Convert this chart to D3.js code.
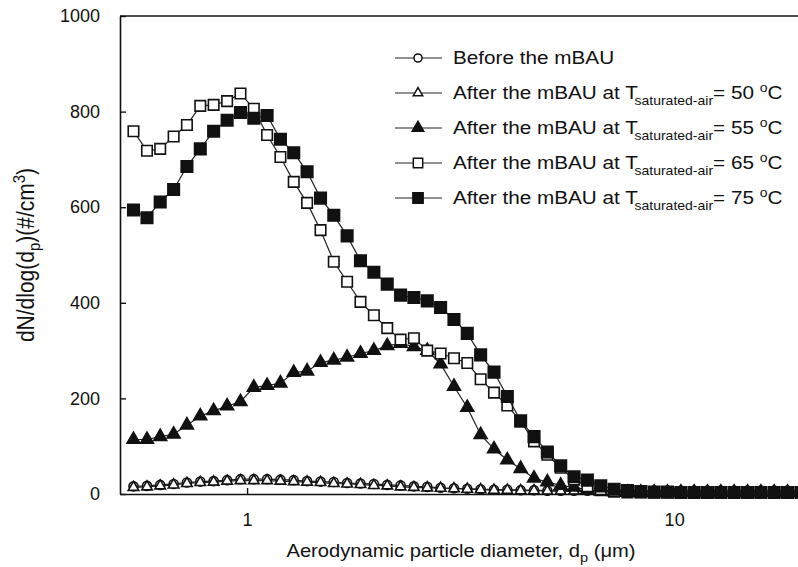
<!DOCTYPE html>
<html>
<head>
<meta charset="utf-8">
<script src="https://cdn.jsdelivr.net/npm/d3@7"></script>
<style>
  body { margin: 0; background: #fff; }
  text { font-family: "Liberation Sans", Arial, sans-serif; fill: #111; }
</style>
</head>
<body>
<div id="canvas"></div>
<script>
// Diametros de canal (um)
const diameters = [0.542,0.583,0.626,0.673,0.723,0.777,0.835,0.898,0.965,1.037,1.114,1.197,1.286,1.382,1.486,1.596,1.715,1.843,1.981,2.129,2.288,2.458,2.642,2.839,3.051,3.278,3.523,3.786,4.068,4.371,4.698,5.048,5.425,5.829,6.264,6.732,7.234,7.774,8.354,8.977,9.647,10.37,11.14,11.97,12.86,13.82,14.86,15.96,17.15,18.43,19.81];

// Series
const before = [16,17,19,21,24,26,27,29,31,31,31,30,29,27,26,25,23,22,21,19,18,16,15,13,12,11,10,9,9,8,8,7,7,7,7,7,7,7,7,7,7,7,7,7,7,7,7,7,7,7,7];
const t50 = [14,15,17,19,22,24,25,27,28,28,28,27,26,25,24,22,21,20,18,17,15,14,13,12,11,10,9,8,8,7,7,6,6,6,6,6,6,6,6,6,6,6,6,6,6,6,6,6,6,6,6];
const t55 = [114,114,120,125,144,163,174,184,193,223,227,232,254,257,275,280,286,294,300,310,315,308,300,272,225,181,124,94,71,53,33,25,18,14,9,6,4,3,3,3,3,3,3,3,3,3,3,3,3,3,3];
const t65 = [759,718,722,748,772,812,814,822,838,806,751,705,653,609,552,486,444,402,374,347,323,326,300,294,284,274,240,212,185,152,110,82,55,30,16,8,5,3,3,3,3,3,3,3,3,3,3,3,3,3,3];
const t75 = [594,578,611,637,685,722,759,782,798,786,792,742,714,674,619,583,540,488,464,439,416,411,404,390,365,336,291,255,204,153,120,88,59,36,29,17,10,7,5,4,4,3,3,3,3,3,3,3,3,3,3];

const labels = ["Before the mBAU", "50", "55", "65", "75"];
const yTicks = [0, 200, 400, 600, 800, 1000];
const xTicks = [1, 10];

const series = [
  { name: labels[0], values: before, symbol: d3.symbolCircle, size: 64, fill: "#fff" },
  { name: labels[1], values: t50, symbol: d3.symbolTriangle, size: 48, fill: "#fff" },
  { name: labels[2], values: t55, symbol: d3.symbolTriangle, size: 72, fill: "#111" },
  { name: labels[3], values: t65, symbol: d3.symbolSquare, size: 110, fill: "#fff" },
  { name: labels[4], values: t75, symbol: d3.symbolSquare, size: 132, fill: "#111" }
];

const width = 798;
const height = 567;
const margin = { top: 16, left: 120, bottom: 73, right: 0 };
const iwidth = width - margin.left - margin.right;
const iheight = height - margin.top - margin.bottom;

const svg = d3.select("#canvas").append("svg")
  .attr("width", width)
  .attr("height", height);

const g = svg.append("g").attr("transform", `translate(${margin.left}, ${margin.top})`);

// Escalas
const x = d3.scaleLog().domain([0.504, 19.5]).range([0, iwidth]);
const y = d3.scaleLinear().domain([0, 1000]).range([iheight, 0]);

// Lineas y marcadores
const line = d3.line().x((d, i) => x(diameters[i])).y(d => y(d));

series.forEach(s => {
  g.append("path")
    .datum(s.values)
    .attr("fill", "none")
    .attr("stroke", "#222")
    .attr("stroke-width", 1.2)
    .attr("d", line);
  g.selectAll(null).data(s.values).enter()
    .append("path")
    .attr("d", d3.symbol().type(s.symbol).size(s.size))
    .attr("transform", (d, i) => `translate(${x(diameters[i])}, ${y(d)})`)
    .attr("fill", s.fill)
    .attr("stroke", "#111")
    .attr("stroke-width", 1.6);
});

// Ejes
const yAxis = g.append("g").call(d3.axisLeft(y).tickValues(yTicks).tickFormat(d3.format("d")).tickSizeInner(-6).tickSizeOuter(0).tickPadding(20));
const xAxis = g.append("g").attr("transform", `translate(0, ${iheight})`)
  .call(d3.axisBottom(x).tickValues(xTicks).tickFormat(d3.format("d")).tickSizeInner(-6).tickSizeOuter(0).tickPadding(19));
[yAxis, xAxis].forEach(a => {
  a.select(".domain").attr("stroke", "#111").attr("stroke-width", 1.6);
  a.selectAll(".tick line").attr("stroke", "#111").attr("stroke-width", 1.4);
  a.selectAll(".tick text").style("font-size", "18px").attr("fill", "#111");
});

// Borde superior
g.append("line")
  .attr("x1", 0).attr("x2", iwidth)
  .attr("y1", 0).attr("y2", 0)
  .attr("stroke", "#111").attr("stroke-width", 1.6);

// Titulo eje x
const xl = svg.append("text")
  .attr("text-anchor", "middle")
  .attr("transform", `translate(461, 557) scale(1.12, 1)`)
  .style("font-size", "18px");
xl.append("tspan").text("Aerodynamic particle diameter, d");
xl.append("tspan").attr("dy", 5).style("font-size", "13px").text("p");
xl.append("tspan").attr("dy", -5).text(" (\u03bcm)");

// Titulo eje y
const yl = svg.append("text")
  .attr("text-anchor", "middle")
  .attr("transform", `translate(34, 255) rotate(-90) scale(1, 1.1)`)
  .style("font-size", "21px");
yl.append("tspan").text("dN/dlog(d");
yl.append("tspan").attr("dy", 5).style("font-size", "15px").text("p");
yl.append("tspan").attr("dy", -5).text(")(#/cm");
yl.append("tspan").attr("dy", -8).style("font-size", "15px").text("3");
yl.append("tspan").attr("dy", 8).text(")");

// Leyenda
const legend = svg.append("g");
series.forEach((s, i) => {
  const ly = 58 + i * 35;
  legend.append("line")
    .attr("x1", 395).attr("x2", 442).attr("y1", ly).attr("y2", ly)
    .attr("stroke", "#222").attr("stroke-width", 1.2);
  legend.append("path")
    .attr("d", d3.symbol().type(s.symbol).size(s.size * 0.8))
    .attr("transform", `translate(418, ${ly})`)
    .attr("fill", s.fill).attr("stroke", "#111").attr("stroke-width", 1.5);
  const t = legend.append("text")
    .attr("transform", `translate(453, ${ly + 6}) scale(1.12, 1)`)
    .style("font-size", "18.5px");
  if (i === 0) {
    t.text(s.name);
  } else {
    t.append("tspan").text("After the mBAU at T");
    t.append("tspan").attr("dx", -3).attr("dy", 6).style("font-size", "12.5px").text("saturated-air");
    t.append("tspan").attr("dy", -6).text("= " + s.name + " ");
    t.append("tspan").attr("dy", -7).style("font-size", "12.5px").text("o");
    t.append("tspan").attr("dy", 7).text("C");
  }
});
</script>
</body>
</html>
